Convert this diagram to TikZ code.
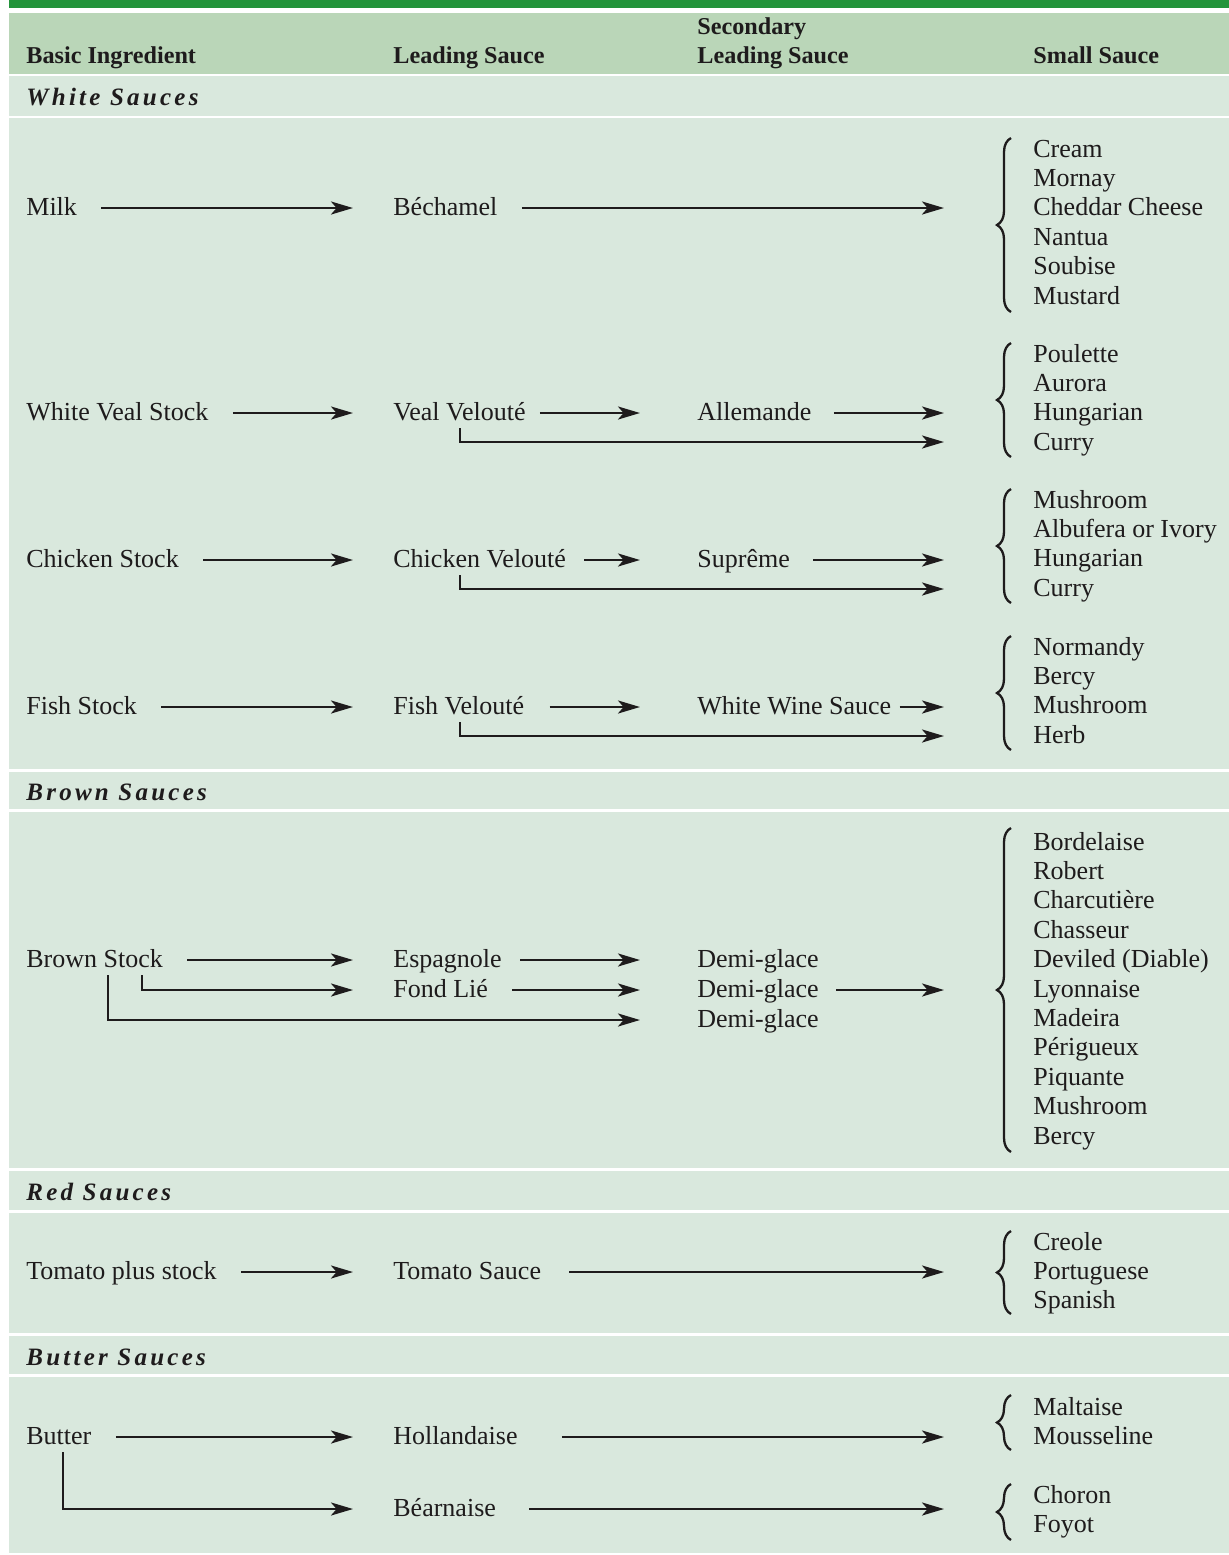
\documentclass[tikz,border=0pt]{standalone}
\usepackage{fontspec}
\setmainfont{Liberation Serif}
\newfontfamily\grpfont[LetterSpace=13]{Liberation Serif}
\usetikzlibrary{arrows.meta, decorations.pathreplacing}
\definecolor{Bar}{HTML}{23943B}
\definecolor{Head}{HTML}{BAD6B8}
\definecolor{Body}{HTML}{D9E8DD}
\definecolor{Ink}{HTML}{1E1B1C}

\begin{document}
\begin{tikzpicture}[x=0.5pt, y=-0.5pt,
  hd/.style={anchor=base west, inner sep=0pt, text=Ink, font=\bfseries\fontsize{12.1}{15}\selectfont},
  grp/.style={anchor=base west, inner sep=0pt, text=Ink, font=\grpfont\bfseries\itshape\fontsize{12.5}{15}\selectfont},
  lbl/.style={anchor=west, inner sep=0pt, text height=9pt, text depth=2pt, text=Ink, font=\fontsize{13}{15}\selectfont},
  arr/.style={-{Stealth[length=11pt, width=6.5pt, inset=2.8pt]}, line width=1.25pt, draw=Ink, shorten <=12pt},
  to2/.style={shorten >=20pt},
  to3/.style={shorten >=28.5pt},
  brc/.style={decorate, decoration={brace, amplitude=7pt}, line width=1.15pt, draw=Ink}]
  \useasboundingbox (0,0) rectangle (1229,1555);

  % bands
  \fill[Bar] (9,0) rectangle (1229,8);
  \fill[Head] (9,13) rectangle (1229,74);
  \foreach \a/\b in {76/116, 118/769, 772/809, 812/1168, 1171/1210, 1213/1333, 1336/1374, 1377/1553}
    \fill[Body] (9,\a) rectangle (1229,\b);

  % column heads
  \node[hd] (hbasic) at (26,63) {Basic Ingredient};
  \node[hd] (hlead) at (393,63) {Leading Sauce};
  \node[hd] (hsec) at (697,34) {Secondary};
  \node[hd] (hseclead) at (697,63) {Leading Sauce};
  \node[hd] (hsmall) at (1033,63) {Small Sauce};

  \node[grp] (gwhite) at (26,105) {White Sauces};
  \node[grp] (gbrown) at (26,800) {Brown Sauces};
  \node[grp] (gred) at (26,1200) {Red Sauces};
  \node[grp] (gbutter) at (26,1365) {Butter Sauces};

  % white sauces
  \node[lbl] (milk) at (26,208) {Milk};
  \node[lbl] (bech) at (393,208) {Béchamel};
  \coordinate (tbech) at (944,208);
  \draw[arr, to2] (milk) -- (bech);
  \draw[arr] (bech) -- (tbech);
  \foreach \s [count=\i from 0] in {Cream, Mornay, Cheddar Cheese, Nantua, Soubise, Mustard}
    \node[lbl] (sbech\i) at (1033,{150+\i*29.4}) {\s};
  \draw[brc] (1011,312) -- (1011,138);

  \node[lbl] (wvs) at (26,413) {White Veal Stock};
  \node[lbl] (vv) at (393,413) {Veal Velouté};
  \node[lbl] (alle) at (697,413) {Allemande};
  \coordinate (talle) at (944,413);
  \coordinate (tvv) at (944,442);
  \draw[arr, to2] (wvs) -- (vv);
  \draw[arr, to3, shorten <=7pt] (vv) -- (alle);
  \draw[arr, shorten <=11pt] (alle) -- (talle);
  \draw[arr, shorten <=0pt] ([xshift=33.5pt, yshift=-2pt]vv.south west) |- (tvv);
  \foreach \s [count=\i from 0] in {Poulette, Aurora, Hungarian, Curry}
    \node[lbl] (svv\i) at (1033,{355+\i*29.4}) {\s};
  \draw[brc] (1011,457) -- (1011,343);

  \node[lbl] (cs) at (26,560) {Chicken Stock};
  \node[lbl] (cv) at (393,560) {Chicken Velouté};
  \node[lbl] (sup) at (697,560) {Suprême};
  \coordinate (tsup) at (944,560);
  \coordinate (tcv) at (944,589);
  \draw[arr, to2] (cs) -- (cv);
  \draw[arr, to3, shorten <=9pt] (cv) -- (sup);
  \draw[arr, shorten <=11.5pt] (sup) -- (tsup);
  \draw[arr, shorten <=0pt] ([xshift=33.5pt, yshift=-2pt]cv.south west) |- (tcv);
  \foreach \s [count=\i from 0] in {Mushroom, Albufera or Ivory, Hungarian, Curry}
    \node[lbl] (scv\i) at (1033,{501+\i*29.4}) {\s};
  \draw[brc] (1011,603) -- (1011,489);

  \node[lbl] (fs) at (26,707) {Fish Stock};
  \node[lbl] (fv) at (393,707) {Fish Velouté};
  \node[lbl] (wws) at (697,707) {White Wine Sauce};
  \coordinate (twws) at (944,707);
  \coordinate (tfv) at (944,736);
  \draw[arr, to2] (fs) -- (fv);
  \draw[arr, to3, shorten <=12.5pt] (fv) -- (wws);
  \draw[arr, shorten <=4pt] (wws) -- (twws);
  \draw[arr, shorten <=0pt] ([xshift=33.5pt, yshift=-2pt]fv.south west) |- (tfv);
  \foreach \s [count=\i from 0] in {Normandy, Bercy, Mushroom, Herb}
    \node[lbl] (sfv\i) at (1033,{648+\i*29.4}) {\s};
  \draw[brc] (1011,750) -- (1011,636);

  % brown sauces
  \node[lbl] (bs) at (26,960) {Brown Stock};
  \node[lbl] (esp) at (393,960) {Espagnole};
  \node[lbl] (fl) at (393,990) {Fond Lié};
  \node[lbl] (dga) at (697,960) {Demi-glace};
  \node[lbl] (dgb) at (697,990) {Demi-glace};
  \node[lbl] (dgc) at (697,1020) {Demi-glace};
  \coordinate (tdg) at (944,990);
  \draw[arr, to2] (bs) -- (esp);
  \draw[arr, to3, shorten <=9pt] (esp) -- (dga);
  \draw[arr, to3] (fl) -- (dgb);
  \draw[arr, shorten <=8.5pt] (dgb) -- (tdg);
  \draw[arr, to2, shorten <=0pt] ([xshift=58pt, yshift=-2pt]bs.south west) |- (fl);
  \draw[arr, to3, shorten <=0pt] ([xshift=41pt, yshift=-2pt]bs.south west) |- (dgc);
  \foreach \s [count=\i from 0] in {Bordelaise, Robert, Charcutière, Chasseur, Deviled (Diable), Lyonnaise, Madeira, Périgueux, Piquante, Mushroom, Bercy}
    \node[lbl] (sdg\i) at (1033,{843+\i*29.4}) {\s};
  \draw[brc] (1011,1152) -- (1011,828);

  % red sauces
  \node[lbl] (tps) at (26,1272) {Tomato plus stock};
  \node[lbl] (ts) at (393,1272) {Tomato Sauce};
  \coordinate (tts) at (944,1272);
  \draw[arr, to2] (tps) -- (ts);
  \draw[arr, shorten <=14pt] (ts) -- (tts);
  \foreach \s [count=\i from 0] in {Creole, Portuguese, Spanish}
    \node[lbl] (sts\i) at (1033,{1243+\i*29.2}) {\s};
  \draw[brc] (1011,1314) -- (1011,1231);

  % butter sauces
  \node[lbl] (but) at (26,1437) {Butter};
  \node[lbl] (hol) at (393,1437) {Hollandaise};
  \node[lbl] (bea) at (393,1509) {Béarnaise};
  \coordinate (thol) at (944,1437);
  \coordinate (tbea) at (944,1509);
  \draw[arr, to2] (but) -- (hol);
  \draw[arr, to2, shorten <=0pt] ([xshift=18.5pt, yshift=-2pt]but.south west) |- (bea);
  \draw[arr, shorten <=22pt] (hol) -- (thol);
  \draw[arr, shorten <=16.5pt] (bea) -- (tbea);
  \node[lbl] (shol0) at (1033,1408) {Maltaise};
  \node[lbl] (shol1) at (1033,1437) {Mousseline};
  \draw[brc] (1011,1450) -- (1011,1395);
  \node[lbl] (sbea0) at (1033,1496) {Choron};
  \node[lbl] (sbea1) at (1033,1525) {Foyot};
  \draw[brc] (1011,1540) -- (1011,1484);
\end{tikzpicture}
\end{document}
